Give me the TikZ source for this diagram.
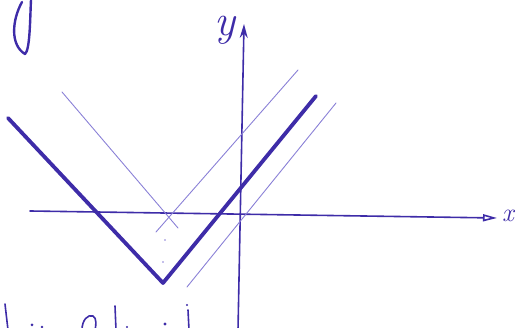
\documentclass[tikz,border=0pt]{standalone}
\usetikzlibrary{arrows.meta}
\begin{document}
\begin{tikzpicture}[x=1pt,y=-1pt,
  ink/.style={draw=inkc,line cap=round,line join=round},
  thick ink/.style={ink,line width=3.8pt},
  thin ink/.style={draw=inkl,line width=0.9pt,line cap=round},
  axis ink/.style={ink,line width=1.6pt},
  lbl/.style={text=inkc,font=\fontsize{44}{44}\selectfont\itshape,inner sep=0pt}]
\definecolor{inkc}{RGB}{62,44,168}
\definecolor{inkl}{RGB}{138,128,214}
\useasboundingbox (0,0) rectangle (517,328);
% axes
\coordinate (xs) at (30,211);
\coordinate (xe) at (497,218);
\coordinate (ys) at (238,330);
\coordinate (ye) at (244,24);
\draw[axis ink,-{Triangle[open,length=14pt,width=7pt]}] (xs) -- (xe);
\draw[axis ink,-{Stealth[length=14pt,width=8pt]}] (ys) -- (ye);
\node[lbl] (ylab) at (225,30) {y};
\node[lbl,font=\fontsize{26}{26}\selectfont\itshape] (xlab) at (508,216) {x};
% thick V
\coordinate (a1) at (8,118);
\coordinate (v1) at (163,283);
\coordinate (a2) at (316,96);
\draw[thick ink] (a1) -- (v1) -- (a2);
% thin lines
\coordinate (b1) at (62,92);
\coordinate (b2) at (178,228);
\coordinate (c1) at (298,70);
\coordinate (c2) at (156,232);
\coordinate (d1) at (336,103);
\coordinate (d2) at (187,287);
\draw[thin ink] (b1) -- (b2);
\draw[thin ink] (c1) -- (c2);
\draw[thin ink] (d1) -- (d2);
% faint dots
\fill[inkl] (165,240) circle (0.9pt);
\fill[inkl] (163,262) circle (0.9pt);
% cut-off handwriting, top left
\draw[ink,line width=2.4pt] (22,2) .. controls (12,20) and (10,45) .. (25,54) .. controls (30,50) and (30,20) .. (31,0);
% cut-off handwriting, bottom
\draw[ink,line width=1.6pt] (5,304) -- (8,330);
\fill[inkc] (32,325) circle (1.5pt);
\fill[inkc] (42,327) circle (1.3pt);
\draw[ink,line width=1.6pt] (82,330) .. controls (82,320) and (88,314) .. (93,316) .. controls (97,318) and (96,326) .. (95,330);
\draw[ink,line width=1.6pt] (115,306) -- (116,330);
\fill[inkc] (127,327) circle (1.2pt);
\fill[inkc] (165,324) circle (1.6pt);
\fill[inkc] (187,305) circle (1.2pt);
\draw[ink,line width=1.6pt] (188,310) -- (189,330);
\end{tikzpicture}
\end{document}
